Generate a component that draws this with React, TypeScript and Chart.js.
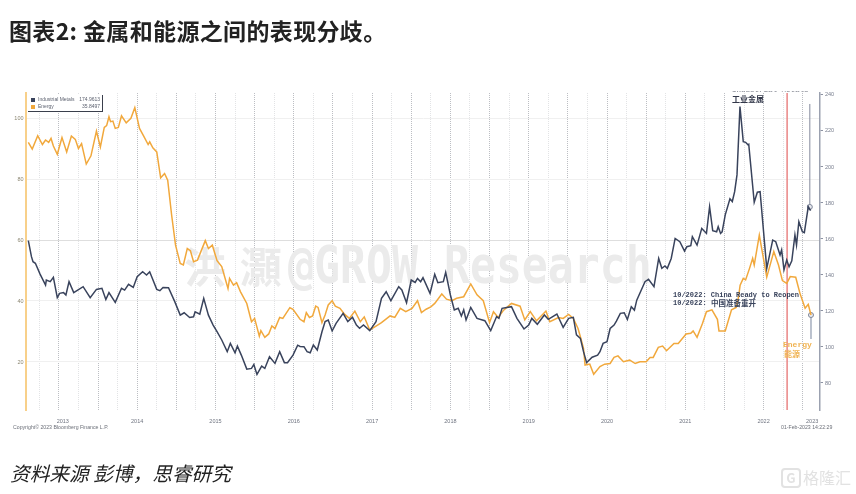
import React, { useEffect, useRef } from "react";
import { Chart, registerables } from "chart.js";

Chart.register(...registerables);

const energyYears = [
	2013.11, 2013.16, 2013.23, 2013.29, 2013.33, 2013.37, 2013.4, 2013.43, 2013.48, 2013.54,
	2013.6, 2013.66, 2013.71, 2013.75, 2013.79, 2013.85, 2013.91, 2013.98, 2014.03, 2014.08,
	2014.11, 2014.14, 2014.16, 2014.19, 2014.22, 2014.26, 2014.3, 2014.36, 2014.42, 2014.47,
	2014.53, 2014.58, 2014.64, 2014.66, 2014.7, 2014.75, 2014.8, 2014.85, 2014.89, 2014.94,
	2014.99, 2015.05, 2015.09, 2015.14, 2015.18, 2015.22, 2015.27, 2015.37, 2015.41, 2015.46,
	2015.52, 2015.58, 2015.66, 2015.68, 2015.73, 2015.77, 2015.82, 2015.9, 2015.96, 2016.0,
	2016.06, 2016.08, 2016.13, 2016.18, 2016.22, 2016.26, 2016.32, 2016.36, 2016.45, 2016.49,
	2016.58, 2016.63, 2016.66, 2016.7, 2016.74, 2016.78, 2016.81, 2016.86, 2016.9, 2016.94,
	2016.99, 2017.03, 2017.09, 2017.15, 2017.21, 2017.28, 2017.35, 2017.4, 2017.47, 2017.54,
	2017.62, 2017.73, 2017.79, 2017.86, 2017.93, 2018.01, 2018.08, 2018.13, 2018.19, 2018.25,
	2018.3, 2018.39, 2018.45, 2018.52, 2018.58, 2018.67, 2018.76, 2018.84, 2018.92, 2019.0,
	2019.05, 2019.11, 2019.18, 2019.28, 2019.39, 2019.45, 2019.52, 2019.6, 2019.72, 2019.77,
	2019.88, 2019.94, 2020.01, 2020.07, 2020.13, 2020.16, 2020.2, 2020.22, 2020.28, 2020.33,
	2020.41, 2020.47, 2020.54, 2020.59, 2020.64, 2020.71, 2020.79, 2020.86, 2020.92, 2021.0,
	2021.05, 2021.09, 2021.155, 2021.21, 2021.26, 2021.355, 2021.41, 2021.51, 2021.57, 2021.6,
	2021.65, 2021.72, 2021.77, 2021.84, 2021.91, 2021.93, 2022.01, 2022.09, 2022.15, 2022.18,
	2022.2, 2022.24, 2022.27, 2022.32, 2022.36, 2022.38, 2022.445, 2022.54, 2022.6, 2022.63,
	2022.69, 2022.74, 2022.795, 2022.84, 2022.91, 2022.964, 2023.03, 2023.07, 2023.105,
];
const energyValues = [
	92.0, 89.8, 94.2, 91.3, 92.8, 92.0, 93.3, 90.8, 88.1, 93.6,
	88.9, 94.1, 93.0, 90.0, 91.6, 84.9, 87.6, 95.7, 90.5, 96.9,
	97.5, 100.4, 98.8, 99.0, 96.6, 96.9, 100.7, 98.4, 99.9, 103.4,
	96.6, 94.2, 91.3, 92.2, 90.2, 88.9, 80.4, 81.8, 79.6, 68.2,
	58.3, 52.3, 51.8, 57.2, 56.5, 52.9, 53.4, 59.8, 57.2, 58.3,
	53.2, 51.3, 44.1, 47.4, 45.2, 46.0, 43.0, 39.2, 33.2, 34.3,
	28.5, 30.3, 28.1, 29.2, 31.8, 31.0, 34.6, 34.3, 37.8, 37.3,
	34.0, 33.2, 36.2, 34.6, 35.1, 38.3, 37.9, 32.9, 35.4, 38.7,
	40.1, 38.3, 37.6, 35.6, 34.3, 36.7, 33.2, 34.8, 30.5, 31.6,
	32.9, 35.1, 34.6, 37.6, 36.5, 37.6, 40.1, 36.2, 37.3, 38.1,
	39.2, 42.3, 40.6, 40.1, 40.9, 41.4, 45.6, 42.0, 40.1, 32.9,
	36.5, 34.6, 37.0, 39.2, 38.3, 33.8, 36.5, 33.5, 36.7, 33.2,
	34.6, 34.3, 35.6, 34.3, 31.0, 28.3, 24.5, 19.0, 19.3, 16.0,
	18.5, 19.3, 19.5, 21.5, 22.0, 20.1, 20.6, 19.5, 20.1, 20.1,
	21.5, 21.5, 24.8, 25.2, 23.7, 26.1, 26.1, 29.2, 29.4, 30.2,
	28.1, 32.7, 36.5, 37.1, 34.0, 30.2, 30.2, 37.1, 37.9, 41.4,
	45.2, 47.4, 46.9, 50.7, 54.0, 51.8, 61.6, 47.8, 53.4, 56.2,
	51.8, 46.7, 45.8, 48.0, 47.8, 42.5, 37.6, 38.9, 35.4,
];

const metalYears = [
	2013.11, 2013.15, 2013.17, 2013.2, 2013.26, 2013.33, 2013.34, 2013.39, 2013.43, 2013.48,
	2013.51, 2013.56, 2013.59, 2013.63, 2013.69, 2013.81, 2013.9, 2013.98, 2014.05, 2014.1,
	2014.14, 2014.22, 2014.3, 2014.34, 2014.39, 2014.45, 2014.5, 2014.57, 2014.62, 2014.66,
	2014.75, 2014.79, 2014.83, 2014.9, 2014.98, 2015.05, 2015.1, 2015.17, 2015.22, 2015.24,
	2015.3, 2015.35, 2015.41, 2015.47, 2015.52, 2015.58, 2015.65, 2015.69, 2015.75, 2015.78,
	2015.83, 2015.9, 2015.96, 2015.99, 2016.03, 2016.09, 2016.13, 2016.19, 2016.26, 2016.32,
	2016.38, 2016.42, 2016.49, 2016.55, 2016.58, 2016.63, 2016.67, 2016.71, 2016.75, 2016.8,
	2016.86, 2016.9, 2016.94, 2016.99, 2017.04, 2017.13, 2017.19, 2017.25, 2017.3, 2017.34,
	2017.39, 2017.47, 2017.55, 2017.62, 2017.68, 2017.74, 2017.84, 2017.88, 2017.94, 2018.0,
	2018.05, 2018.08, 2018.12, 2018.15, 2018.24, 2018.3, 2018.34, 2018.41, 2018.44, 2018.5,
	2018.55, 2018.6, 2018.64, 2018.67, 2018.7, 2018.76, 2018.84, 2018.94, 2019.015, 2019.09,
	2019.12, 2019.16, 2019.28, 2019.35, 2019.44, 2019.5, 2019.54, 2019.61, 2019.7, 2019.75,
	2019.86, 2019.94, 2020.01, 2020.07, 2020.11, 2020.16, 2020.2, 2020.24, 2020.31, 2020.38,
	2020.41, 2020.45, 2020.5, 2020.54, 2020.59, 2020.62, 2020.67, 2020.72, 2020.76, 2020.81,
	2020.85, 2020.88, 2020.985, 2021.03, 2021.1, 2021.16, 2021.2, 2021.24, 2021.27, 2021.32,
	2021.37, 2021.43, 2021.49, 2021.52, 2021.57, 2021.59, 2021.65, 2021.71, 2021.77, 2021.81,
	2021.85, 2021.9, 2021.92, 2021.95, 2021.97, 2022.01, 2022.07, 2022.1, 2022.13, 2022.16,
	2022.198, 2022.24, 2022.27, 2022.3, 2022.31, 2022.38, 2022.42, 2022.455, 2022.54, 2022.616,
	2022.655, 2022.71, 2022.73, 2022.76, 2022.795, 2022.825, 2022.86, 2022.9, 2022.92, 2022.95,
	2022.995, 2023.02, 2023.07, 2023.1,
];
const metalValues = [
	159.1, 150.2, 147.4, 146.5, 140.5, 134.4, 137.2, 136.3, 138.7, 127.4,
	129.8, 130.2, 128.9, 136.3, 130.2, 133.5, 127.4, 132.0, 132.6, 126.4,
	130.2, 124.8, 132.6, 131.6, 134.8, 133.1, 139.0, 141.8, 140.0, 141.8,
	132.0, 131.3, 133.1, 132.9, 125.2, 117.7, 119.0, 116.4, 116.8, 119.6,
	118.3, 127.0, 117.7, 112.2, 108.5, 103.9, 97.4, 102.0, 96.8, 100.5,
	95.5, 87.7, 88.1, 90.3, 84.8, 89.4, 88.1, 94.6, 90.9, 97.4,
	91.3, 91.3, 95.5, 101.0, 100.3, 100.2, 97.4, 96.8, 101.1, 98.3,
	108.5, 114.1, 115.0, 108.9, 113.1, 118.7, 114.1, 116.5, 112.2, 110.4,
	112.2, 109.1, 114.1, 127.0, 130.7, 125.7, 133.5, 131.7, 124.6, 137.2,
	135.9, 138.1, 136.3, 138.5, 129.8, 140.4, 135.7, 136.3, 141.5, 128.9,
	120.6, 121.5, 117.2, 120.6, 115.0, 122.0, 115.9, 114.6, 109.1, 116.9,
	115.9, 121.5, 122.4, 115.9, 110.0, 112.2, 115.9, 112.6, 117.8, 115.4,
	118.3, 110.9, 115.9, 116.5, 106.7, 104.8, 97.4, 91.3, 94.3, 95.5,
	97.4, 102.0, 102.9, 110.3, 112.2, 114.4, 118.7, 119.0, 115.3, 122.4,
	120.5, 126.0, 136.3, 137.6, 133.5, 149.2, 143.7, 145.0, 143.7, 149.2,
	160.3, 158.5, 153.3, 155.7, 156.3, 161.3, 156.6, 165.9, 163.1, 177.9,
	164.6, 164.0, 166.8, 163.1, 164.0, 173.4, 182.3, 180.8, 186.3, 195.6,
	233.6, 214.1, 213.7, 212.3, 212.6, 180.4, 186.0, 186.3, 143.7, 159.4,
	158.5, 151.1, 153.9, 142.8, 148.3, 144.6, 147.9, 162.2, 156.6, 169.6,
	164.0, 163.5, 177.9, 175.7,
];

// last value whiskers and the reopening date
const metalRangeYears = [2023.09, 2023.09];
const metalRangeValues = [177.8, 235];
const energyRangeYears = [2023.105, 2023.105];
const energyRangeValues = [35.4, 27.5];
const reopenYears = [2022.8, 2022.8];
const reopenValues = [4.26, 108.2];

const quarterTicks = [
	2013.25, 2013.5, 2013.75, 2014, 2014.25, 2014.5, 2014.75, 2015, 2015.25, 2015.5, 2015.75,
	2016, 2016.25, 2016.5, 2016.75, 2017, 2017.25, 2017.5, 2017.75, 2018, 2018.25, 2018.5, 2018.75,
	2019, 2019.25, 2019.5, 2019.75, 2020, 2020.25, 2020.5, 2020.75, 2021, 2021.25, 2021.5, 2021.75,
	2022, 2022.25, 2022.5, 2022.75, 2023,
];
const yearLabels = ["2013", "2014", "2015", "2016", "2017", "2018", "2019", "2020", "2021", "2022", "2023"];
const yearLabelAt = [2013.55, 2014.5, 2015.5, 2016.5, 2017.5, 2018.5, 2019.5, 2020.5, 2021.5, 2022.5, 2023.12];
const leftTicks = [20, 40, 60, 80, 100];
const rightTicks = [80, 100, 120, 140, 160, 180, 200, 220, 240];

const NAVY = "#39435c";
const ORANGE = "#f1a83c";

const pairs = (xs: number[], ys: number[]) => xs.map((x, i) => ({ x, y: ys[i] }));

const overlayText = {
	id: "overlayText",
	beforeDatasetsDraw(chart: any) {
		const { ctx } = chart;
		ctx.save();
		ctx.fillStyle = "#ebebeb";
		ctx.textBaseline = "alphabetic";
		ctx.font = "bold 42px 'Noto Sans CJK SC'";
		ctx.fillText("洪", 184, 283);
		ctx.fillText("灝", 240, 283);
		ctx.translate(288, 283);
		ctx.scale(0.83, 1);
		ctx.font = "bold 52px 'DejaVu Sans Mono'";
		ctx.fillText("@GROW Research", 0, 0);
		ctx.restore();
	},
	afterDraw(chart: any) {
		const { ctx } = chart;
		ctx.save();
		ctx.textBaseline = "middle";

		// legend box
		ctx.fillStyle = "#3a3f4c";
		ctx.fillRect(28, 95, 75, 17);
		ctx.fillStyle = "#ffffff";
		ctx.fillRect(27, 94, 75, 17);
		ctx.fillStyle = NAVY;
		ctx.fillRect(31, 98, 4, 4);
		ctx.fillStyle = ORANGE;
		ctx.fillRect(31, 105, 4, 4);
		ctx.fillStyle = "#5d6270";
		ctx.font = "5px 'Liberation Sans'";
		ctx.fillText("Industrial Metals", 38, 100);
		ctx.fillText("Energy", 38, 107);
		ctx.textAlign = "right";
		ctx.fillText("174.9613", 100, 100);
		ctx.fillText("35.8497", 100, 107);
		ctx.textAlign = "left";

		// footer
		ctx.fillStyle = "#6b6f78";
		ctx.font = "5.2px 'Liberation Sans'";
		ctx.fillText("Copyright© 2023 Bloomberg Finance L.P.", 13, 428);
		ctx.fillText("01-Feb-2023 14:22:29", 781, 428);

		// the english note is cut off by the top of the screenshot
		ctx.save();
		ctx.beginPath();
		ctx.rect(728, 91.5, 84, 2);
		ctx.clip();
		ctx.fillStyle = "#33384a";
		ctx.font = "bold 7.5px 'Liberation Mono'";
		ctx.fillText("Industrial Metals", 732, 90);
		ctx.restore();

		// notes on the chart
		ctx.fillStyle = "#33384a";
		ctx.font = "bold 8px 'Noto Sans CJK SC'";
		ctx.fillText("工业金属", 732, 99);
		ctx.fillStyle = NAVY;
		ctx.font = "bold 7px 'Liberation Mono'";
		ctx.fillText("10/2022: China Ready to Reopen", 673, 295);
		ctx.fillText("10/2022:", 673, 303);
		ctx.font = "bold 7.5px 'Noto Sans CJK SC'";
		ctx.fillText("中国准备重开", 711, 303);
		ctx.fillStyle = "#f0b352";
		ctx.font = "bold 8px 'Liberation Mono'";
		ctx.fillText("Energy", 783, 345);
		ctx.font = "bold 8px 'Noto Sans CJK SC'";
		ctx.fillText("能源", 784, 354);
		ctx.restore();
	},
};

const App: React.FC = () => {
	const canvasRef = useRef<HTMLCanvasElement>(null);

	useEffect(() => {
		if (!canvasRef.current) return;
		const chart = new Chart(canvasRef.current, {
			type: "line",
			plugins: [overlayText],
			data: {
				datasets: [
					{
						label: "Industrial Metals",
						data: pairs(metalYears, metalValues),
						yAxisID: "yMetals",
						borderColor: NAVY,
						borderWidth: 1.5,
						pointRadius: 0,
					},
					{
						label: "Energy",
						data: pairs(energyYears, energyValues),
						yAxisID: "yEnergy",
						borderColor: ORANGE,
						borderWidth: 1.5,
						pointRadius: 0,
					},
					{
						label: "Metals range",
						data: pairs(metalRangeYears, metalRangeValues),
						yAxisID: "yMetals",
						borderColor: "#838a9c",
						borderWidth: 1,
						pointRadius: [2.5, 0],
						pointBackgroundColor: "#e8eaf0",
						pointBorderColor: "#7d8598",
						pointBorderWidth: 1,
					},
					{
						label: "Energy range",
						data: pairs(energyRangeYears, energyRangeValues),
						yAxisID: "yEnergy",
						borderColor: "#a5aebf",
						borderWidth: 1.5,
						pointRadius: [2.5, 0],
						pointBackgroundColor: "#e8eaf0",
						pointBorderColor: "#7d8598",
						pointBorderWidth: 1,
					},
					{
						label: "Reopen",
						data: pairs(reopenYears, reopenValues),
						yAxisID: "yEnergy",
						borderColor: "#e98585",
						borderWidth: 1.5,
						pointRadius: 0,
					},
				],
			},
			options: {
				responsive: false,
				animation: false,
				events: [],
				layout: { padding: { top: 93 } },
				plugins: { legend: { display: false }, tooltip: { enabled: false } },
				scales: {
					x: {
						type: "linear",
						min: 2013.074,
						max: 2023.22,
						afterBuildTicks: (scale: any) => {
							scale.ticks = [...quarterTicks, ...yearLabelAt.filter((v) => !quarterTicks.includes(v))]
								.sort((a, b) => a - b)
								.map((value) => ({ value }));
						},
						afterFit: (scale: any) => {
							scale.height = 84;
						},
						ticks: {
							autoSkip: false,
							maxRotation: 0,
							padding: 8,
							color: "#6f7480",
							font: { size: 5.5, family: "'Liberation Sans'" },
							callback: (value: any) => {
								const i = yearLabelAt.indexOf(value);
								return i >= 0 ? yearLabels[i] : "";
							},
						},
						border: { display: false, dash: [1, 1] },
						grid: {
							drawTicks: false,
							lineWidth: 1,
							color: (c: any) => {
								const v = c.tick?.value;
								if (!quarterTicks.includes(v)) return "rgba(0,0,0,0)";
								return v % 0.5 === 0 ? "#bcbec3" : "#e2e3e5";
							},
						},
					},
					yEnergy: {
						position: "left",
						min: 4.26,
						max: 108.2,
						afterBuildTicks: (scale: any) => {
							scale.ticks = leftTicks.map((value) => ({ value }));
						},
						afterFit: (scale: any) => {
							scale.width = 25.5;
						},
						ticks: {
							padding: 2,
							color: "#8a8570",
							font: { size: 5.5, family: "'Liberation Sans'" },
						},
						border: { color: "#f8d08a", width: 2 },
						grid: {
							drawTicks: false,
							color: (c: any) => (c.tick?.value === 60 ? "#dedede" : "#f0f0f0"),
						},
					},
					yMetals: {
						position: "right",
						min: 65,
						max: 241.1,
						afterBuildTicks: (scale: any) => {
							scale.ticks = rightTicks.map((value) => ({ value }));
						},
						afterFit: (scale: any) => {
							scale.width = 36;
						},
						ticks: {
							padding: 2,
							color: "#767c8c",
							font: { size: 5.5, family: "'Liberation Sans'" },
						},
						border: { color: "#9ba1b0", width: 1.5 },
						grid: { drawOnChartArea: false, tickLength: 3, color: "#8d93a3" },
					},
				},
			},
		} as any);
		return () => chart.destroy();
	}, []);

	return (
		<div style={{ position: "absolute", left: 0, top: 0, width: 856, height: 494, background: "#fff", overflow: "hidden", fontFamily: "'Noto Sans CJK SC'" }}>
			<canvas ref={canvasRef} width={856} height={494} style={{ position: "absolute", left: 0, top: 0, filter: "blur(0.35px)" }} />
			<div style={{ position: "absolute", left: 9, top: 13, fontSize: 23, lineHeight: "34px", fontWeight: 700, letterSpacing: 0.35, color: "#222", whiteSpace: "nowrap" }}>
				图表2: 金属和能源之间的表现分歧。
			</div>
			<div style={{ position: "absolute", left: 10, top: 458, fontSize: 19.7, lineHeight: "30px", fontStyle: "italic", color: "#222", whiteSpace: "nowrap" }}>
				资料来源 彭博，思睿研究
			</div>
			<div style={{ position: "absolute", left: 781, top: 468, width: 16, height: 16, border: "2px solid #e2e2e2", borderRadius: 4, color: "#e2e2e2", fontSize: 13, lineHeight: "16px", fontWeight: 700, textAlign: "center" }}>
				G
			</div>
			<div style={{ position: "absolute", left: 803, top: 465, fontSize: 16, lineHeight: "24px", color: "#e2e2e2", whiteSpace: "nowrap" }}>
				格隆汇
			</div>
		</div>
	);
};

export default App;
